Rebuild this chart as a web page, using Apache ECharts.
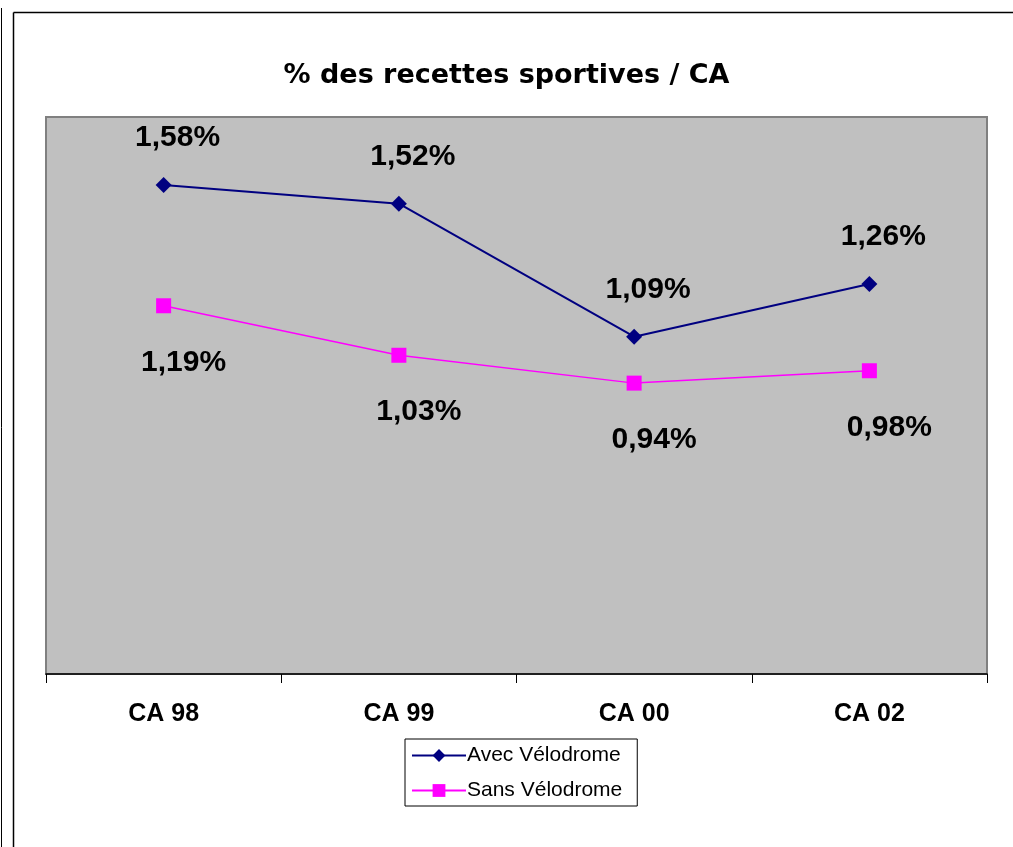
<!DOCTYPE html>
<html>
<head>
<meta charset="utf-8">
<script src="https://cdn.jsdelivr.net/npm/echarts@6/dist/echarts.min.js"></script>
<style>
html,body{margin:0;padding:0;background:#fff;}
#chart{width:1013px;height:847px;}
</style>
</head>
<body>
<div id="chart"></div>
<script>
const categories = ['CA 98', 'CA 99', 'CA 00', 'CA 02'];
const avecVelodrome = [1.58, 1.52, 1.09, 1.26];
const sansVelodrome = [1.19, 1.03, 0.94, 0.98];
const seriesNames = ['Avec Vélodrome', 'Sans Vélodrome'];
const titleText = '% des recettes sportives / CA';

const fmt = p => p.value.toFixed(2).replace('.', ',') + '%';

const chart = echarts.init(document.getElementById('chart'));
chart.setOption({
  animation: false,
  backgroundColor: '#ffffff',
  title: {
    text: titleText,
    left: 'center',
    top: 57,
    textStyle: {
      fontFamily: '"Comic Sans MS", "DejaVu Sans", sans-serif',
      fontWeight: 'bold',
      fontSize: 27,
      color: '#000'
    }
  },
  graphic: [
    { type: 'line', shape: { x1: 13.5, y1: 12.5, x2: 1013, y2: 12.5 }, style: { stroke: '#000', lineWidth: 1.5 } },
    { type: 'line', shape: { x1: 13.5, y1: 12.5, x2: 13.5, y2: 847 }, style: { stroke: '#000', lineWidth: 1.5 } },
    { type: 'line', shape: { x1: 1.5, y1: 8, x2: 1.5, y2: 847 }, style: { stroke: '#000', lineWidth: 1 } }
  ],
  legend: {
    orient: 'vertical',
    left: 405,
    top: 739,
    data: seriesNames,
    itemWidth: 54,
    itemHeight: 16,
    itemGap: 14,
    padding: [6, 15, 5, 6],
    borderColor: '#000',
    borderWidth: 1,
    backgroundColor: '#fff',
    textStyle: { fontFamily: '"Liberation Sans", Arial, sans-serif', fontSize: 21, color: '#000', padding: [0, 0, 0, -4] }
  },
  grid: {
    left: 46, top: 117, right: 26, bottom: 173,
    show: true,
    backgroundColor: '#c0c0c0',
    borderColor: '#808080',
    borderWidth: 2,
    containLabel: false
  },
  xAxis: {
    type: 'category',
    data: categories,
    boundaryGap: true,
    axisLine: { lineStyle: { color: '#000', width: 1.5 } },
    axisTick: { show: true, inside: false, length: 9, lineStyle: { color: '#000' } },
    axisLabel: {
      margin: 28,
      fontFamily: '"Liberation Sans", Arial, sans-serif',
      fontWeight: 'bold',
      fontSize: 25,
      color: '#000'
    },
    splitLine: { show: false }
  },
  yAxis: {
    type: 'value',
    min: 0,
    max: 1.8,
    show: false,
    splitLine: { show: false }
  },
  series: [
    {
      name: seriesNames[0],
      type: 'line',
      data: avecVelodrome,
      symbol: 'diamond',
      symbolSize: 16,
      lineStyle: { color: '#000080', width: 2 },
      itemStyle: { color: '#000080' },
      label: {
        show: true,
        position: 'top',
        distance: 24,
        offset: [14, 0],
        formatter: fmt,
        fontFamily: '"Liberation Sans", Arial, sans-serif',
        fontWeight: 'bold',
        fontSize: 30,
        color: '#000'
      }
    },
    {
      name: seriesNames[1],
      type: 'line',
      data: sansVelodrome,
      symbol: 'rect',
      symbolSize: 15,
      lineStyle: { color: '#ff00ff', width: 1.5 },
      itemStyle: { color: '#ff00ff' },
      label: {
        show: true,
        position: 'bottom',
        distance: 34,
        offset: [20, 0],
        formatter: fmt,
        fontFamily: '"Liberation Sans", Arial, sans-serif',
        fontWeight: 'bold',
        fontSize: 30,
        color: '#000'
      }
    }
  ]
});
</script>
</body>
</html>
